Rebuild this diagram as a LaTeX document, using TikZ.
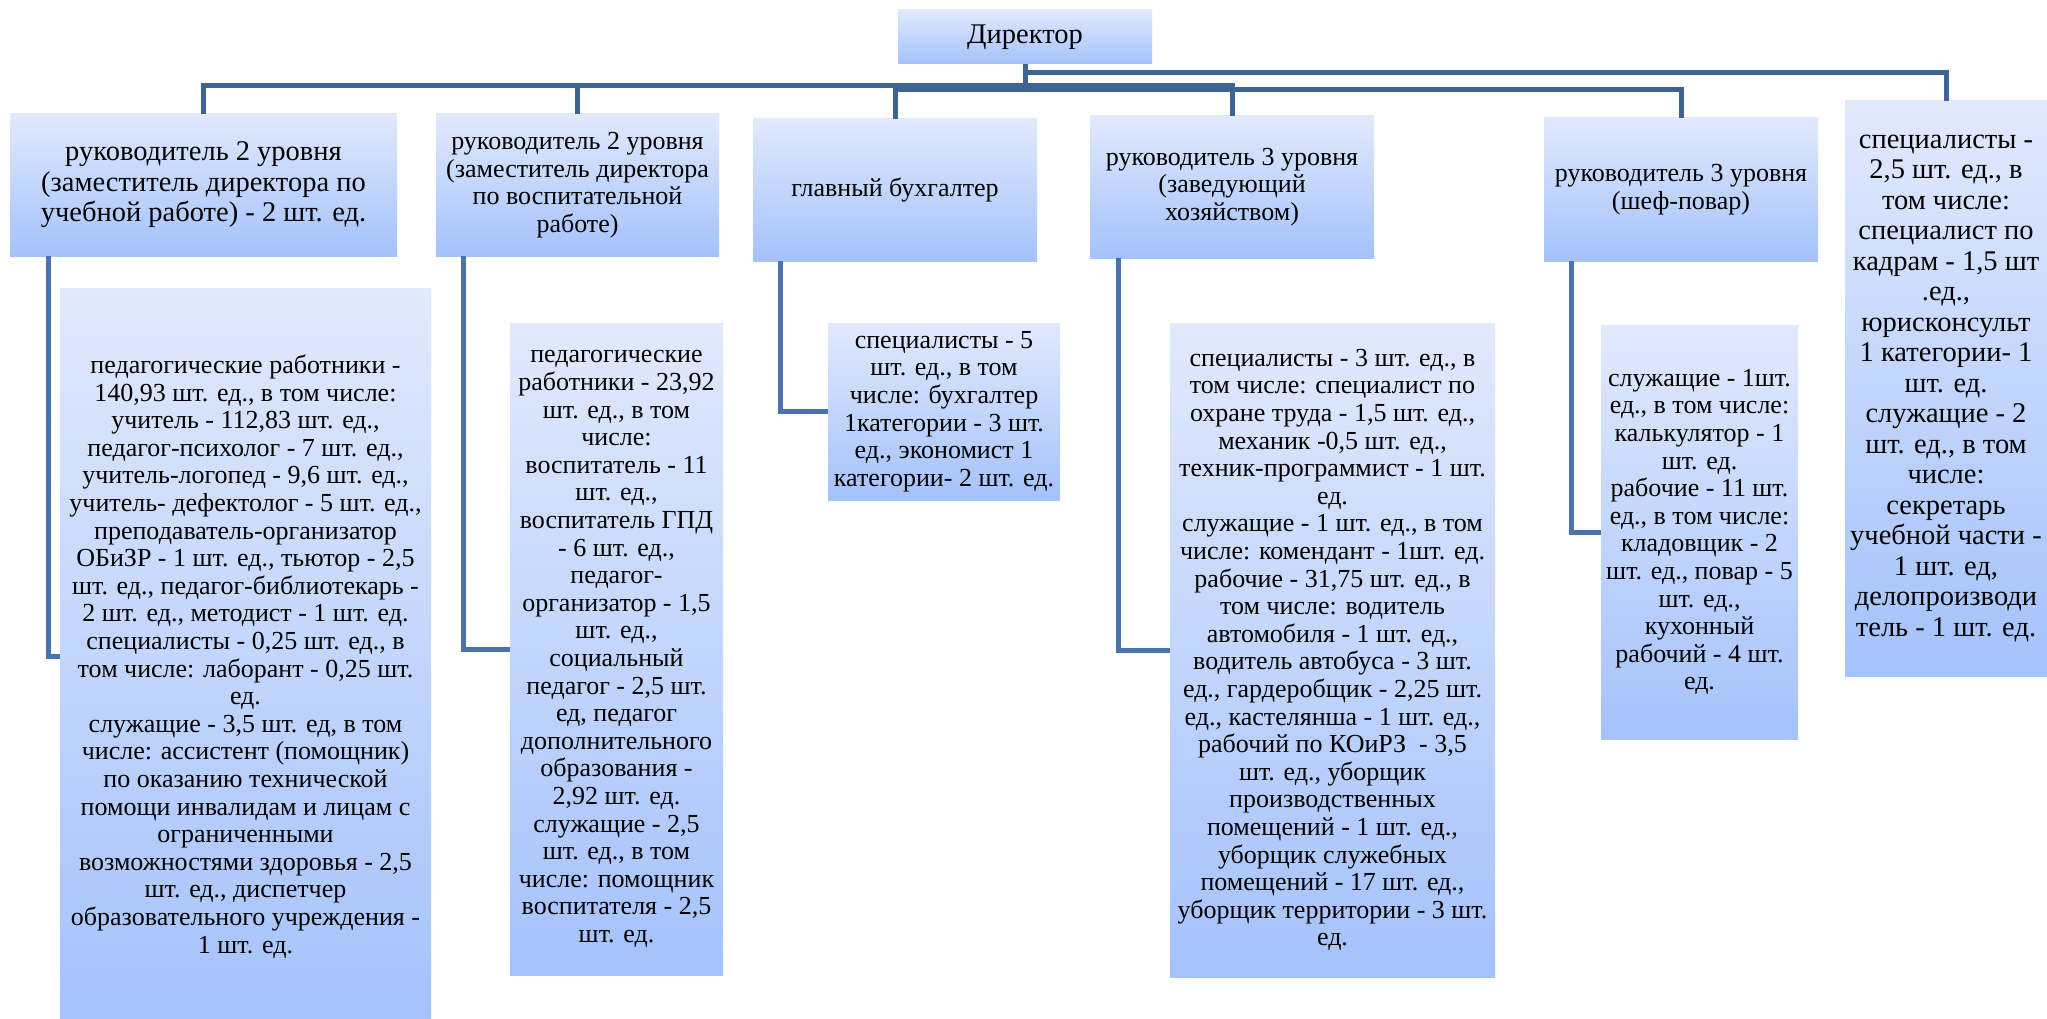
\documentclass[tikz,border=0pt]{standalone}
\usepackage{fontspec}
\setmainfont{Liberation Serif}
\definecolor{boxtop}{HTML}{E1E9FD}
\definecolor{boxbot}{HTML}{A4C2FB}
\definecolor{linetop}{HTML}{3E6496}
\definecolor{linesub}{HTML}{4B73AE}
\newcommand{\nsz}{\fontsize{26}{27.6}\selectfont}
\newcommand{\bsz}{\fontsize{28.5}{30.5}\selectfont}
\begin{document}
\begin{tikzpicture}[x=1pt,y=-1pt,
  box/.style={rectangle, top color=boxtop, bottom color=boxbot, draw=none,
    inner sep=0pt, align=center, font=\nsz},
  bigbox/.style={box, font=\bsz},
  toplink/.style={draw=linetop, line width=5pt},
  sublink/.style={draw=linesub, line width=5pt}]
\useasboundingbox (0,0) rectangle (2047,1019);
\fill[white] (0,0) rectangle (2047,1019);

\node[bigbox, minimum width=254pt, minimum height=54pt] (dir) at (1025,37) {Директор};

\node[bigbox, minimum width=387pt, minimum height=142pt] (b1) at (203.5,185)
 {руководитель 2 уровня\\(заместитель директора по\\учебной работе) - 2 шт. ед.};
\node[box, minimum width=283pt, minimum height=142pt] (b2) at (577.5,185)
 {руководитель 2 уровня\\(заместитель директора\\по воспитательной\\работе)};
\node[box, minimum width=284pt, minimum height=142pt] (b3) at (895,190)
 {главный бухгалтер};
\node[box, minimum width=284pt, minimum height=142pt] (b4) at (1232,187)
 {руководитель 3 уровня\\(заведующий\\хозяйством)};
\node[box, minimum width=274pt, minimum height=143pt] (b5) at (1681,189.5)
 {руководитель 3 уровня\\(шеф-повар)};
\node[bigbox, minimum width=202pt, minimum height=575pt] (b6) at (1946,388.5)
 {специалисты -\\2,5 шт. ед., в\\том числе:\\специалист по\\кадрам - 1,5 шт\\.ед.,\\юрисконсульт\\1 категории- 1\\шт. ед.\\служащие - 2\\шт. ед., в том\\числе:\\секретарь\\учебной части -\\1 шт. ед,\\делопроизводи\\тель - 1 шт. ед.};

\node[box, minimum width=371pt, minimum height=737pt] (s1) at (245.5,656.5)
 {педагогические работники -\\140,93 шт. ед., в том числе:\\учитель - 112,83 шт. ед.,\\педагог-психолог - 7 шт. ед.,\\учитель-логопед - 9,6 шт. ед.,\\учитель- дефектолог - 5 шт. ед.,\\преподаватель-организатор\\ОБиЗР - 1 шт. ед., тьютор - 2,5\\шт. ед., педагог-библиотекарь -\\2 шт. ед., методист - 1 шт. ед.\\специалисты - 0,25 шт. ед., в\\том числе: лаборант - 0,25 шт.\\ед.\\служащие - 3,5 шт. ед, в том\\числе: ассистент (помощник)\\по оказанию технической\\помощи инвалидам и лицам с\\ограниченными\\возможностями здоровья - 2,5\\шт. ед., диспетчер\\образовательного учреждения -\\1 шт. ед.};
\node[box, minimum width=213pt, minimum height=652pt] (s2) at (616.5,649)
 {педагогические\\работники - 23,92\\шт. ед., в том\\числе:\\воспитатель - 11\\шт. ед.,\\воспитатель ГПД\\- 6 шт. ед.,\\педагог-\\организатор - 1,5\\шт. ед.,\\социальный\\педагог - 2,5 шт.\\ед, педагог\\дополнительного\\образования -\\2,92 шт. ед.\\служащие - 2,5\\шт. ед., в том\\числе: помощник\\воспитателя - 2,5\\шт. ед.};
\node[box, minimum width=232pt, minimum height=177pt] (s3) at (944,411.5)
 {специалисты - 5\\шт. ед., в том\\числе: бухгалтер\\1категории - 3 шт.\\ед., экономист 1\\категории- 2 шт. ед.};
\node[box, minimum width=325pt, minimum height=654pt] (s4) at (1332.5,650)
 {специалисты - 3 шт. ед., в\\том числе: специалист по\\охране труда - 1,5 шт. ед.,\\механик -0,5 шт. ед.,\\техник-программист - 1 шт.\\ед.\\служащие - 1 шт. ед., в том\\числе: комендант - 1шт. ед.\\рабочие - 31,75 шт. ед., в\\том числе: водитель\\автомобиля - 1 шт. ед.,\\водитель автобуса - 3 шт.\\ед., гардеробщик - 2,25 шт.\\ед., кастелянша - 1 шт. ед.,\\рабочий по КОиРЗ \ - 3,5\\шт. ед., уборщик\\производственных\\помещений - 1 шт. ед.,\\уборщик служебных\\помещений - 17 шт. ед.,\\уборщик территории - 3 шт.\\ед.};
\node[box, minimum width=197pt, minimum height=414pt] (s5) at (1699.5,532)
 {служащие - 1шт.\\ед., в том числе:\\калькулятор - 1\\шт. ед.\\рабочие - 11 шт.\\ед., в том числе:\\кладовщик - 2\\шт. ед., повар - 5\\шт. ед.,\\кухонный\\рабочий - 4 шт.\\ед.};

% top connectors
\draw[toplink] (dir.south) -- ++(0,8) -| (b6.north);
\draw[toplink] (dir.south) -- ++(0,21) -| (b1.north);
\draw[toplink] (dir.south) -- ++(0,21) -| (b2.north);
\draw[toplink] (dir.south) -- ++(0,21) -| (b4.north);
\draw[toplink] (dir.south) -- ++(0,25) -| (b3.north);
\draw[toplink] (dir.south) -- ++(0,25) -| (b5.north);

% sub connectors
\draw[sublink] ([xshift=39pt]b1.south west) |- (s1.west);
\draw[sublink] ([xshift=28pt]b2.south west) |- (s2.west);
\draw[sublink] ([xshift=28pt]b3.south west) |- (s3.west);
\draw[sublink] ([xshift=29pt]b4.south west) |- (s4.west);
\draw[sublink] ([xshift=28pt]b5.south west) |- (s5.west);
\end{tikzpicture}
\end{document}
